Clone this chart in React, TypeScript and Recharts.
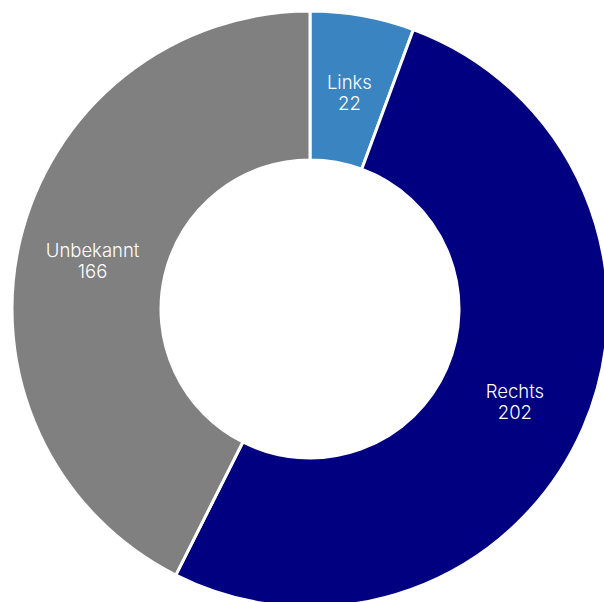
import { PieChart, Pie, Cell } from "recharts";

const NAMES = ["Links", "Rechts", "Unbekannt"];
const VALUES = [22, 202, 166];
const COLORS = ["#3a84c1", "#000080", "#808080"];

const data = NAMES.map((name, i) => ({ name, value: VALUES[i] }));

const RAD = Math.PI / 180;

function renderLabel(props: any) {
  const { cx, cy, midAngle, innerRadius, outerRadius, name, value } = props;
  const r = (innerRadius + outerRadius) / 2;
  const x = cx + r * Math.cos(-midAngle * RAD);
  const y = cy + r * Math.sin(-midAngle * RAD);
  return (
    <text
      x={x}
      y={y}
      fill="#ffffff"
      textAnchor="middle"
      fontFamily="Inter, sans-serif"
      fontWeight={300}
      fontSize={18.5}
    >
      <tspan x={x} dy="-0.02em">{name}</tspan>
      <tspan x={x} dy="1.13em">{value}</tspan>
    </text>
  );
}

export default function App() {
  return (
    <div style={{ position: "absolute", left: 0, top: 0, width: 604, height: 602, background: "#fff" }}>
      <PieChart width={604} height={602} margin={{ top: 0, right: 0, bottom: 0, left: 0 }}>
        <Pie
          data={data}
          dataKey="value"
          nameKey="name"
          cx={310}
          cy={309}
          innerRadius={149}
          outerRadius={298}
          startAngle={90}
          endAngle={-270}
          stroke="#ffffff"
          strokeWidth={3}
          label={renderLabel}
          labelLine={false}
          isAnimationActive={false}
        >
          {data.map((_, i) => (
            <Cell key={i} fill={COLORS[i]} />
          ))}
        </Pie>
      </PieChart>
    </div>
  );
}
